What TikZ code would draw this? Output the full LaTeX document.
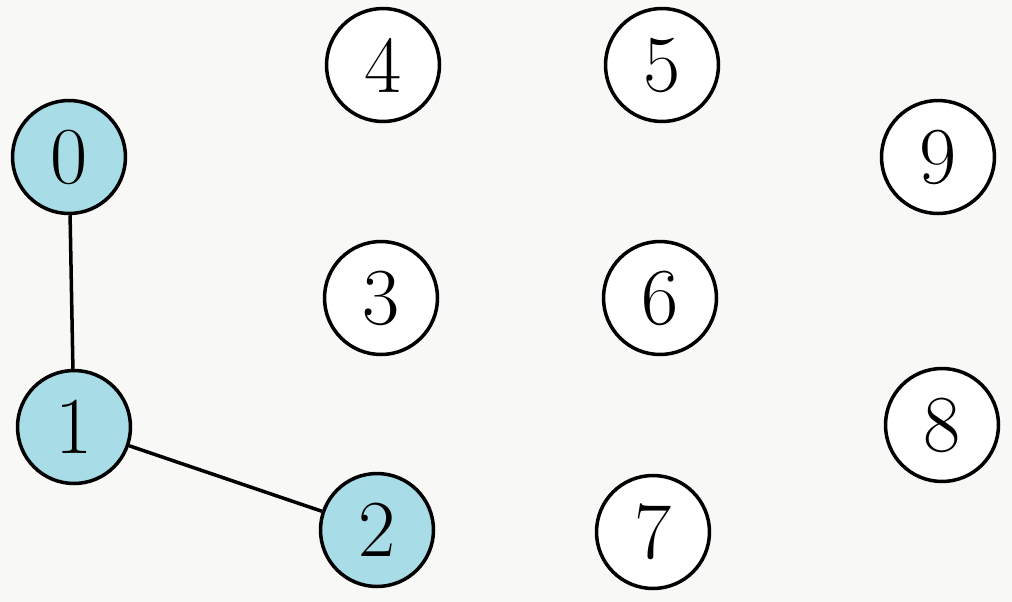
\documentclass[tikz,border=0pt]{standalone}
\begin{document}
\begin{tikzpicture}[x=0.02cm,y=-0.02cm,
  vtx/.style={circle,draw=black,line width=2pt,minimum size=2.26cm,inner sep=0pt,fill=white,font=\fontsize{46}{48}\selectfont},
  vis/.style={vtx,fill=visblue},
  edge/.style={line width=2pt}]
\definecolor{visblue}{HTML}{A8DDE7}
\definecolor{bg}{HTML}{F8F8F6}
\fill[bg] (0,0) rectangle (1012,602);
\useasboundingbox (0,0) rectangle (1012,602);
\node[vis] (n0) at (69,157) {0};
\node[vis] (n1) at (74,427) {1};
\node[vis] (n2) at (377,530) {2};
\node[vtx] (n3) at (381,298) {3};
\node[vtx] (n4) at (383,65) {4};
\node[vtx] (n5) at (662,65) {5};
\node[vtx] (n6) at (660,298) {6};
\node[vtx] (n7) at (653,532) {7};
\node[vtx] (n8) at (942,425) {8};
\node[vtx] (n9) at (938,157) {9};
\draw[edge] (n0) -- (n1);
\draw[edge] (n1) -- (n2);
\end{tikzpicture}
\end{document}
